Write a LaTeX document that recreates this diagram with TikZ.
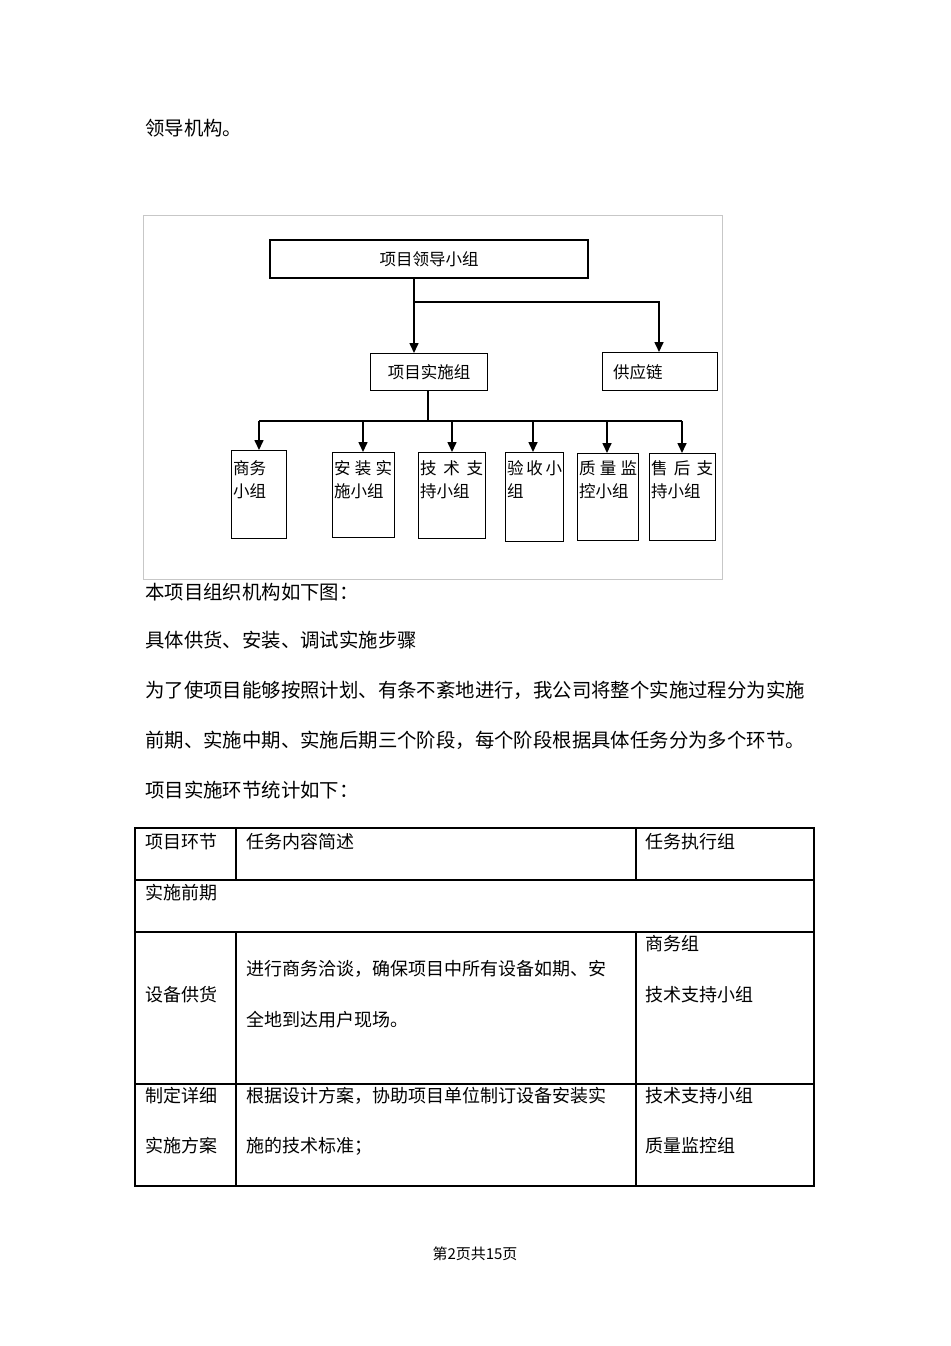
\documentclass[tikz,border=0pt]{standalone}
\usepackage{fontspec}
\setmainfont{Noto Sans CJK SC}
\usetikzlibrary{arrows.meta}
\begin{document}
\begin{tikzpicture}[x=1pt,y=-1pt,
  ln/.style={line width=1.6pt},
  arr/.style={line width=1.6pt,-{Triangle[length=10pt,width=9pt]}},
  bx/.style={draw,line width=1.2pt,inner sep=0,anchor=north west,font=\fontsize{16.5}{16.5}\selectfont},
  txt/.style={anchor=west,inner sep=0,font=\fontsize{19.4}{19.4}\selectfont},
  ttx/.style={anchor=west,inner sep=0,font=\fontsize{18}{18}\selectfont},
  btx/.style={anchor=west,inner sep=0,font=\fontsize{16.5}{16.5}\selectfont},
  tbl/.style={line width=2pt}]
\useasboundingbox (0,0) rectangle (950,1346);
% body text
\node[txt] (t0) at (145,128) {领导机构。};
% chart frame
\draw[line width=1pt,color=black!22] (143,215) rectangle (722,579);
% boxes
\node[bx,line width=2pt,minimum width=318pt,minimum height=38pt] (lead) at (269,239) {项目领导小组};
\node[bx,minimum width=117pt,minimum height=37pt] (impl) at (370,353) {项目实施组};
\node[bx,minimum width=115pt,minimum height=38pt] (supply) at (602,352) {};
\node[btx] (supplyt) at (613,372) {供应链};
\node[bx,minimum width=55pt,minimum height=88pt] (b1) at (231,450) {};
\node[bx,minimum width=62pt,minimum height=85pt] (b2) at (332,452) {};
\node[bx,minimum width=67pt,minimum height=86pt] (b3) at (418,452) {};
\node[bx,minimum width=58pt,minimum height=89pt] (b4) at (505,452) {};
\node[bx,minimum width=61pt,minimum height=87pt] (b5) at (577,453) {};
\node[bx,minimum width=66pt,minimum height=87pt] (b6) at (649,453) {};
% box texts
\node[btx] (b1a) at (233,468) {商务};
\node[btx] (b1b) at (233,491) {小组};
\node[btx] (b2a) at (334,468) {\makebox[58pt][s]{安\hfill 装\hfill 实}};
\node[btx] (b2b) at (334,491) {施小组};
\node[btx] (b3a) at (420,468) {\makebox[63pt][s]{技\hfill 术\hfill 支}};
\node[btx] (b3b) at (420,491) {持小组};
\node[btx] (b4a) at (507,468) {\makebox[55pt][s]{验\hfill 收\hfill 小}};
\node[btx] (b4b) at (507,491) {组};
\node[btx] (b5a) at (579,468) {\makebox[58pt][s]{质\hfill 量\hfill 监}};
\node[btx] (b5b) at (579,491) {控小组};
\node[btx] (b6a) at (651,468) {\makebox[62pt][s]{售\hfill 后\hfill 支}};
\node[btx] (b6b) at (651,491) {持小组};
% connectors
\coordinate (j1) at (414,302);
\coordinate (j2) at (659,302);
\draw[arr] (lead.south -| j1) -- (impl.north -| j1);
\draw[arr] (j1) -- (j2) -- (supply.north -| j2);
\coordinate (h) at (428,421);
\coordinate (a1) at (259,421);
\coordinate (a2) at (363,421);
\coordinate (a3) at (452,421);
\coordinate (a4) at (533,421);
\coordinate (a5) at (607,421);
\coordinate (a6) at (682,421);
\draw[ln] (impl.south -| h) -- (h);
\draw[ln] (a1) -- (a6);
\draw[arr] (a1) -- (a1 |- b1.north);
\draw[arr] (a2) -- (a2 |- b2.north);
\draw[arr] (a3) -- (a3 |- b3.north);
\draw[arr] (a4) -- (a4 |- b4.north);
\draw[arr] (a5) -- (a5 |- b5.north);
\draw[arr] (a6) -- (a6 |- b6.north);
% paragraphs
\node[txt] (p1) at (145,592) {本项目组织机构如下图：};
\node[txt] (p2) at (145,640) {具体供货、安装、调试实施步骤};
\node[txt] (p3) at (145,690) {为了使项目能够按照计划、有条不紊地进行，我公司将整个实施过程分为实施};
\node[txt] (p4) at (145,740) {前期、实施中期、实施后期三个阶段，每个阶段根据具体任务分为多个环节。};
\node[txt] (p5) at (145,790) {项目实施环节统计如下：};
% table
\draw[tbl] (135,828) rectangle (814,1186);
\draw[tbl] (135,880) -- (814,880);
\draw[tbl] (135,932) -- (814,932);
\draw[tbl] (135,1084) -- (814,1084);
\draw[tbl] (236,828) -- (236,880);
\draw[tbl] (636,828) -- (636,880);
\draw[tbl] (236,932) -- (236,1186);
\draw[tbl] (636,932) -- (636,1186);
\node[ttx] (c11) at (145,842) {项目环节};
\node[ttx] (c12) at (246,842) {任务内容简述};
\node[ttx] (c13) at (645,842) {任务执行组};
\node[ttx] (c2) at (145,893) {实施前期};
\node[ttx] (c31) at (145,995) {设备供货};
\node[ttx] (c32a) at (246,969) {进行商务洽谈，确保项目中所有设备如期、安};
\node[ttx] (c32b) at (246,1020) {全地到达用户现场。};
\node[ttx] (c33a) at (645,944) {商务组};
\node[ttx] (c33b) at (645,995) {技术支持小组};
\node[ttx] (c41a) at (145,1096) {制定详细};
\node[ttx] (c41b) at (145,1146) {实施方案};
\node[ttx] (c42a) at (246,1096) {根据设计方案，协助项目单位制订设备安装实};
\node[ttx] (c42b) at (246,1146) {施的技术标准；};
\node[ttx] (c43a) at (645,1096) {技术支持小组};
\node[ttx] (c43b) at (645,1146) {质量监控组};
% footer
\node[inner sep=0,font=\fontsize{15}{15}\selectfont] (foot) at (475,1254) {第2页共15页};
\end{tikzpicture}
\end{document}
